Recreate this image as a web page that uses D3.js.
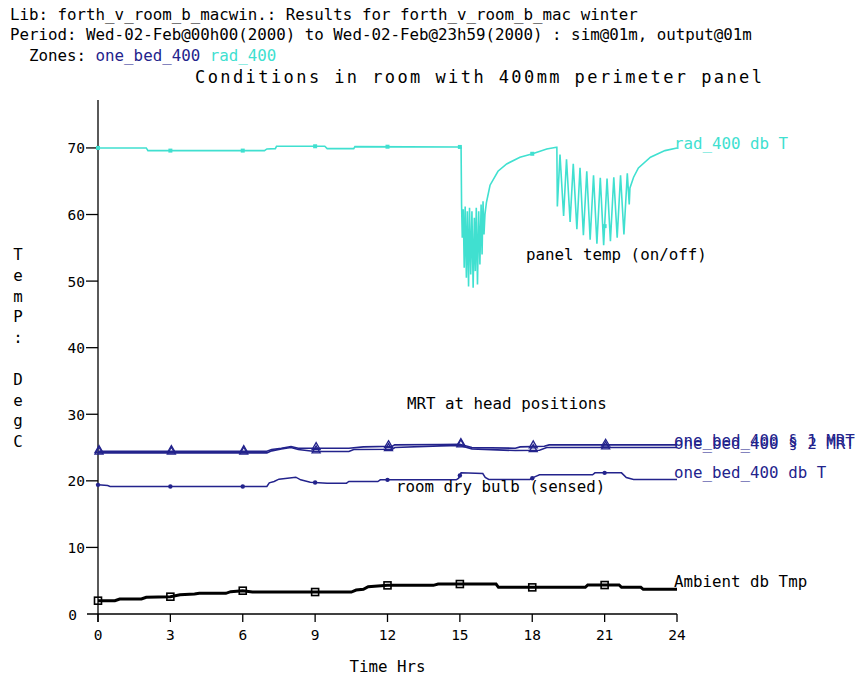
<!DOCTYPE html>
<html><head><meta charset="utf-8">
<script src="https://cdn.jsdelivr.net/npm/d3@7"></script>
<style>
html,body{margin:0;padding:0;background:#fff;}
svg{display:block;}
text{font-family:"DejaVu Sans Mono","Liberation Mono",monospace;}
</style></head>
<body>
<script>
// ---------- DATA ----------
const headerLines = [
  "Lib: forth_v_room_b_macwin.: Results for forth_v_room_b_mac winter",
  "Period: Wed-02-Feb@00h00(2000) to Wed-02-Feb@23h59(2000) : sim@01m, output@01m"
];
const zonesPrefix = "Zones: ";
const zoneNames = ["one_bed_400", "rad_400"];
const chartTitle = "Conditions in room with 400mm perimeter panel";
const xLabel = "Time Hrs";
const yLabel = "TemP: DegC";
const xTicks = [0, 3, 6, 9, 12, 15, 18, 21, 24];
const yTicks = [0, 10, 20, 30, 40, 50, 60, 70];
const markerHours = [0, 3, 6, 9, 12, 15, 18, 21];

// rad_400 db T (panel temperature) [hour, degC]
const radT = [
  [0,70.0],[2.0,70.0],[2.07,69.6],[6.9,69.6],[7.0,69.85],[7.35,69.9],[7.4,70.25],[9.4,70.25],
  [9.5,69.9],[10.6,69.9],[10.65,70.2],[15.0,70.15],
  [15.05,70.1],[15.07,61.5],[15.10,56.5],[15.14,60.8],[15.18,52],[15.22,61.2],[15.27,50.5],
  [15.31,60.5],[15.36,49.2],[15.40,61],[15.45,51],[15.50,60.5],[15.55,49],[15.60,59.5],
  [15.64,51.5],[15.68,61],[15.73,49.5],[15.78,60.5],[15.83,52.5],[15.88,61.5],[15.92,54],
  [15.96,62],[16.0,57],[16.04,60],
  [16.1,61.8],[16.25,64.4],[16.58,66.5],[16.94,67.6],[17.49,68.6],[17.98,69.1],[18.6,69.85],[19.0,70.1],
  [19.02,70.1],[19.04,61.2],[19.15,69.0],[19.30,59.8],[19.42,68.3],[19.57,58.9],[19.70,67.6],
  [19.85,57.8],[19.98,67.0],[20.12,56.9],[20.26,66.5],[20.40,56.2],[20.54,65.9],[20.68,55.6],
  [20.82,65.5],[20.96,55.4],[21.10,65.4],[21.24,56.0],[21.38,65.6],[21.52,56.5],[21.66,65.9],
  [21.80,57.0],[21.94,66.2],[22.02,61.5],[22.05,64.0],
  [22.2,65.6],[22.4,67.0],[22.9,68.6],[23.5,69.6],[24,70.0]
];

// one_bed_400 MRT sensors 1 and 2
const mrt1 = [
  [0,24.45],[7.0,24.45],[7.2,24.7],[7.6,24.9],[8.0,25.15],[8.3,24.9],[10.4,24.9],[11.0,25.1],
  [12.2,25.2],[12.3,25.4],[14.2,25.45],[15.0,25.5],[15.5,25.0],[17.3,24.9],[17.5,25.1],
  [18.5,25.2],[18.7,25.4],[24,25.4]
];
const mrt2 = [
  [0,24.2],[7.0,24.2],[7.2,24.5],[7.6,24.8],[8.0,25.0],[8.3,24.7],[9.0,24.4],[10.4,24.4],
  [10.6,24.7],[12.2,24.75],[12.3,25.0],[14.2,25.25],[15.0,25.3],[15.5,24.8],[17.3,24.55],
  [18.3,24.6],[18.6,25.0],[24,25.0]
];

// one_bed_400 db T (room dry bulb)
const roomT = [
  [0,19.4],[0.4,19.3],[0.5,19.15],[7.0,19.15],[7.1,19.7],[7.3,19.9],[7.5,20.25],[8.2,20.55],
  [8.4,20.15],[8.8,19.8],[9.5,19.65],[10.3,19.65],[10.4,19.9],[11.6,19.9],[11.7,20.15],
  [14.85,20.15],[14.95,20.4],[15.05,21.2],[15.95,21.1],[16.05,20.5],[16.2,20.2],[17.9,20.2],
  [18.1,20.6],[18.3,20.9],[20.5,20.9],[20.6,21.2],[21.7,21.2],[21.9,20.5],[22.2,20.2],[24,20.2]
];

// Ambient db Tmp
const ambT = [
  [0,2.0],[0.7,2.0],[0.9,2.25],[1.8,2.25],[2.0,2.5],[3.0,2.6],[3.4,2.9],[4.0,3.0],[4.2,3.1],
  [5.3,3.1],[5.5,3.35],[6.0,3.5],[6.4,3.3],[10.5,3.3],[10.7,3.6],[11.0,3.7],[11.2,4.1],
  [12.0,4.3],[13.9,4.3],[14.1,4.5],[16.5,4.5],[16.6,4.0],[20.2,4.0],[20.3,4.35],[21.6,4.35],
  [21.7,4.0],[22.5,4.0],[22.6,3.7],[24,3.7]
];

const seriesLabels = {
  rad: "rad_400 db T",
  mrt1: "one_bed_400 \u00a7 1 MRT",
  mrt2: "one_bed_400 \u00a7 2 MRT",
  room: "one_bed_400 db T",
  amb: "Ambient db Tmp"
};
const notes = ["panel temp (on/off)", "MRT at head positions", "room dry bulb (sensed)"];

// ---------- STYLE ----------
const W = 855, H = 679;
const CYAN = "#40e0d0", NAVY = "#23238c", BLACK = "#000";
const FS = 15.8;

const svg = d3.select("body").append("svg").attr("width", W).attr("height", H);

const x = d3.scaleLinear().domain([0, 24]).range([98, 677]);
const y = d3.scaleLinear().domain([0, 77.2]).range([614, 100]);

function valueAt(s, h) {
  const i = d3.bisector(d => d[0]).right(s, h);
  if (i <= 0) return s[0][1];
  if (i >= s.length) return s[s.length - 1][1];
  const a = s[i - 1], b = s[i];
  return a[1] + (b[1] - a[1]) * (h - a[0]) / (b[0] - a[0]);
}

// ---------- HEADER ----------
svg.append("text").attr("x", 10).attr("y", 20).attr("font-size", FS).text(headerLines[0]);
svg.append("text").attr("x", 10).attr("y", 40).attr("font-size", FS).text(headerLines[1]);
const zt = svg.append("text").attr("x", 29).attr("y", 61).attr("font-size", FS);
zt.append("tspan").text(zonesPrefix);
zt.append("tspan").attr("fill", NAVY).text(zoneNames[0]);
zt.append("tspan").text(" ");
zt.append("tspan").attr("fill", CYAN).text(zoneNames[1]);
svg.append("text").attr("x", 195).attr("y", 83).attr("font-size", 17)
  .attr("textLength", 567).attr("lengthAdjust", "spacing").text(chartTitle);

// ---------- AXES ----------
const ax = svg.append("g").attr("stroke", BLACK).attr("stroke-width", 1.3);
ax.append("line").attr("x1", x(0)).attr("x2", x(0)).attr("y1", y.range()[1]).attr("y2", y(0) + 8);
ax.append("line").attr("x1", x(0) - 11).attr("x2", x(24)).attr("y1", y(0)).attr("y2", y(0));
ax.selectAll(".yt").data(yTicks.filter(d => d > 0)).enter().append("line")
  .attr("x1", x(0) - 12).attr("x2", x(0)).attr("y1", d => y(d)).attr("y2", d => y(d));
ax.selectAll(".xt").data(xTicks).enter().append("line")
  .attr("x1", d => x(d)).attr("x2", d => x(d)).attr("y1", y(0)).attr("y2", y(0) + 8);

svg.selectAll(".ytl").data(yTicks).enter().append("text")
  .attr("x", d => d === 0 ? x(0) - 21 : x(0) - 13).attr("y", d => y(d) + 5.5)
  .attr("text-anchor", "end").attr("font-size", 14.5).text(d => d);
svg.selectAll(".xtl").data(xTicks).enter().append("text")
  .attr("x", d => x(d)).attr("y", y(0) + 26).attr("text-anchor", "middle")
  .attr("font-size", 14.5).text(d => d);
svg.append("text").attr("x", x(12)).attr("y", 672).attr("text-anchor", "middle")
  .attr("font-size", FS).text(xLabel);
svg.selectAll(".ylab").data(yLabel.split("")).enter().append("text")
  .attr("x", 18).attr("y", (d, i) => 260 + i * 20.8).attr("text-anchor", "middle")
  .attr("font-size", FS).text(d => d);

// ---------- LINES ----------
const line = d3.line().x(d => x(d[0])).y(d => y(d[1]));
function drawSeries(data, color, width) {
  svg.append("path").datum(data).attr("d", line).attr("fill", "none")
    .attr("stroke", color).attr("stroke-width", width).attr("stroke-linejoin", "miter");
}
drawSeries(radT, CYAN, 1.6);
drawSeries(ambT, BLACK, 3);
drawSeries(roomT, NAVY, 1.5);
drawSeries(mrt2, NAVY, 1.6);
drawSeries(mrt1, NAVY, 1.6);

// ---------- MARKERS ----------
svg.selectAll(".mc").data(markerHours).enter().append("rect")
  .attr("x", d => x(d) - 2).attr("y", d => y(valueAt(radT, d)) - 2)
  .attr("width", 4).attr("height", 4).attr("fill", CYAN);
svg.selectAll(".mr").data(markerHours).enter().append("circle")
  .attr("cx", d => x(d)).attr("cy", d => y(valueAt(roomT, d))).attr("r", 2.2).attr("fill", NAVY);
const tri = d3.symbol().type(d3.symbolTriangle).size(28);
[mrt1, mrt2].forEach((s, k) => {
  svg.selectAll(".mt" + k).data(markerHours).enter().append("path")
    .attr("d", tri).attr("transform", d => `translate(${x(d) + 1},${y(valueAt(s, d)) - 1})`)
    .attr("fill", "none").attr("stroke", NAVY).attr("stroke-width", 1.3);
});
svg.selectAll(".ma").data(markerHours).enter().append("rect")
  .attr("x", d => x(d) - 3.5).attr("y", d => y(valueAt(ambT, d)) - 3.5)
  .attr("width", 7).attr("height", 7).attr("fill", "none")
  .attr("stroke", BLACK).attr("stroke-width", 1.6);

// ---------- LABELS ----------
const lx = x(24) - 3;
svg.append("text").attr("x", lx).attr("y", y(valueAt(radT, 24)) + 1).attr("font-size", FS)
  .attr("fill", CYAN).text(seriesLabels.rad);
svg.append("text").attr("x", lx).attr("y", y(valueAt(mrt1, 24)) + 1).attr("font-size", FS)
  .attr("fill", NAVY).text(seriesLabels.mrt1);
svg.append("text").attr("x", lx).attr("y", y(valueAt(mrt2, 24)) + 1).attr("font-size", FS)
  .attr("fill", NAVY).text(seriesLabels.mrt2);
svg.append("text").attr("x", lx).attr("y", y(valueAt(roomT, 24)) - 2).attr("font-size", FS)
  .attr("fill", NAVY).text(seriesLabels.room);
svg.append("text").attr("x", lx).attr("y", y(valueAt(ambT, 24)) - 2).attr("font-size", FS)
  .attr("fill", BLACK).text(seriesLabels.amb);

svg.append("text").attr("x", 526).attr("y", 260).attr("font-size", FS).text(notes[0]);
svg.append("text").attr("x", 407).attr("y", 409).attr("font-size", FS).text(notes[1]);
svg.append("text").attr("x", 396).attr("y", 492).attr("font-size", FS).text(notes[2]);
</script>
</body></html>
